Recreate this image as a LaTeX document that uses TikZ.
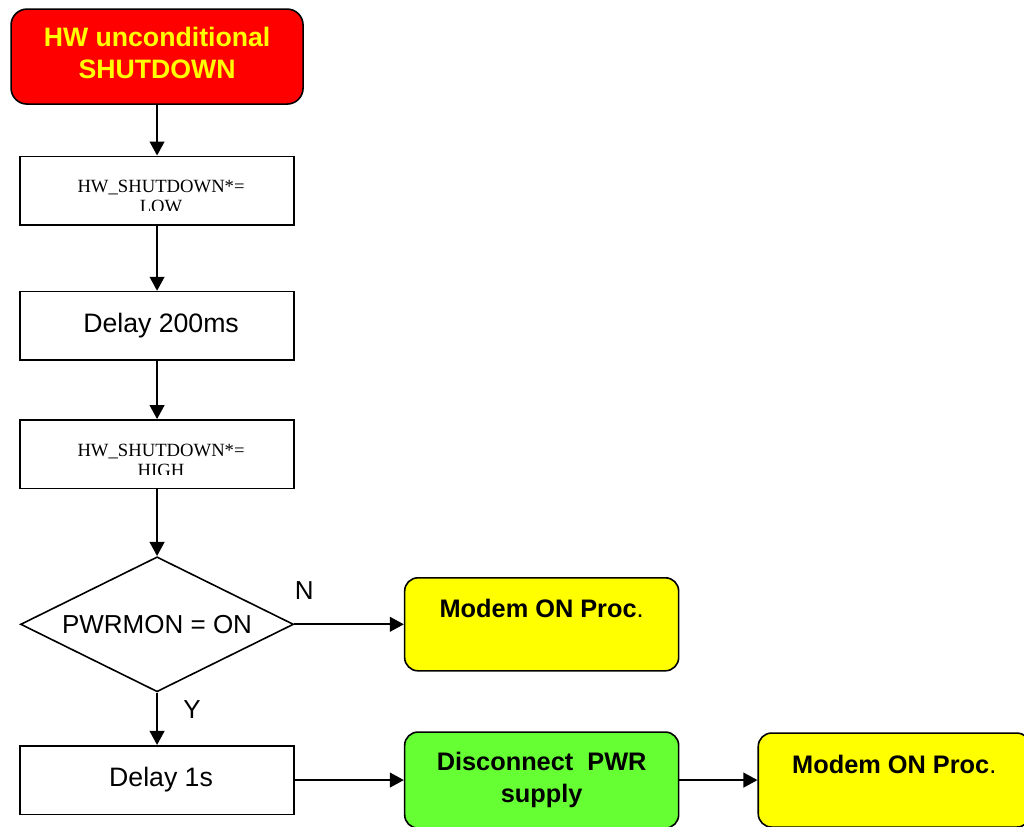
\documentclass[tikz,border=0pt]{standalone}
\usepackage{fontspec}
\setmainfont{Liberation Sans}
\newfontfamily\timesfont{Liberation Serif}
\usetikzlibrary{matrix, arrows.meta, shapes.geometric}
\definecolor{stopred}{HTML}{FF0000}
\definecolor{modemyellow}{HTML}{FFFF00}
\definecolor{cutgreen}{HTML}{66FF33}

\begin{document}
\begin{tikzpicture}[x=0.75pt, y=-0.75pt,
  box/.style = {draw, line width=1.2pt, minimum width=205.5pt, minimum height=51.5pt, inner sep=0pt, align=center, font=\fontsize{20}{24}\selectfont},
  procbox/.style = {box, rounded corners=10pt, font=\bfseries\fontsize{19}{24}\selectfont},
  cond/.style = {box, diamond, aspect=2, minimum width=204.75pt, minimum height=101.25pt, font=\fontsize{19.5}{24}\selectfont},
  sdtext/.style = {inner sep=0pt, align=center, font=\timesfont\fontsize{14}{15}\selectfont},
  flow/.style = {line width=1.5pt, -{Triangle[length=10.5pt, width=11pt]}},
  lbl/.style = {inner sep=0pt, font=\fontsize{19.5}{24}\selectfont}]
\useasboundingbox (0,0) rectangle (1024,827);
\matrix (m) [row sep = 0pt, column sep = 0pt, inner sep = 0pt, nodes = {anchor = center}, anchor = north west] at (10,8) {
\node[procbox, fill=stopred, text=modemyellow, font=\bfseries\fontsize{20}{24}\selectfont, text depth=6pt, minimum width=219pt, minimum height=71.25pt, rounded corners=12pt](hw){HW unconditional\\SHUTDOWN}; \\[38pt]
\node[box](lo){}; \\[48.75pt]
\node[box](d200){\hspace*{6pt}Delay 200ms}; \\[43.5pt]
\node[box](hi){}; \\[50.25pt]
\node[cond](pm){PWRMON = ON}; &[75pt] \node[procbox, fill=modemyellow, minimum height=69.75pt](on1){Modem ON Proc{\mdseries .}\\\mbox{}}; \\[29.25pt]
\node[box](d1){\hspace*{6pt}Delay 1s}; &[75pt] \node[procbox, fill=cutgreen, minimum height=72pt](cut){Disconnect\ \ PWR\\supply}; &[58.5pt] \node[procbox, fill=modemyellow, minimum width=204pt, minimum height=70.5pt](on2){Modem ON Proc{\mdseries .}\\\mbox{}}; \\
};
% text cut off at the lower edge
\begin{scope}
\clip (lo.north west) rectangle ([yshift=11.75pt]lo.south east);
\node[sdtext](lotext) at ([xshift=3pt, yshift=-4.5pt]lo.center){HW\_SHUTDOWN*=\\LOW};
\end{scope}
\begin{scope}
\clip (hi.north west) rectangle ([yshift=11.5pt]hi.south east);
\node[sdtext](hitext) at ([xshift=3pt, yshift=-4.5pt]hi.center){HW\_SHUTDOWN*=\\HIGH};
\end{scope}
\draw[flow] (hw) -- (lo);
\draw[flow] (lo) -- (d200);
\draw[flow] (d200) -- (hi);
\draw[flow] (hi) -- (pm);
\draw[flow] (pm) -- node[lbl, pos=0.09, above=18pt](nlbl){N} (on1);
\draw[flow] (pm) -- node[lbl, pos=0.33, right=19pt](ylbl){Y} (d1);
\draw[flow] (d1) -- (cut);
\draw[flow] (cut) -- (on2);
\end{tikzpicture}
\end{document}
